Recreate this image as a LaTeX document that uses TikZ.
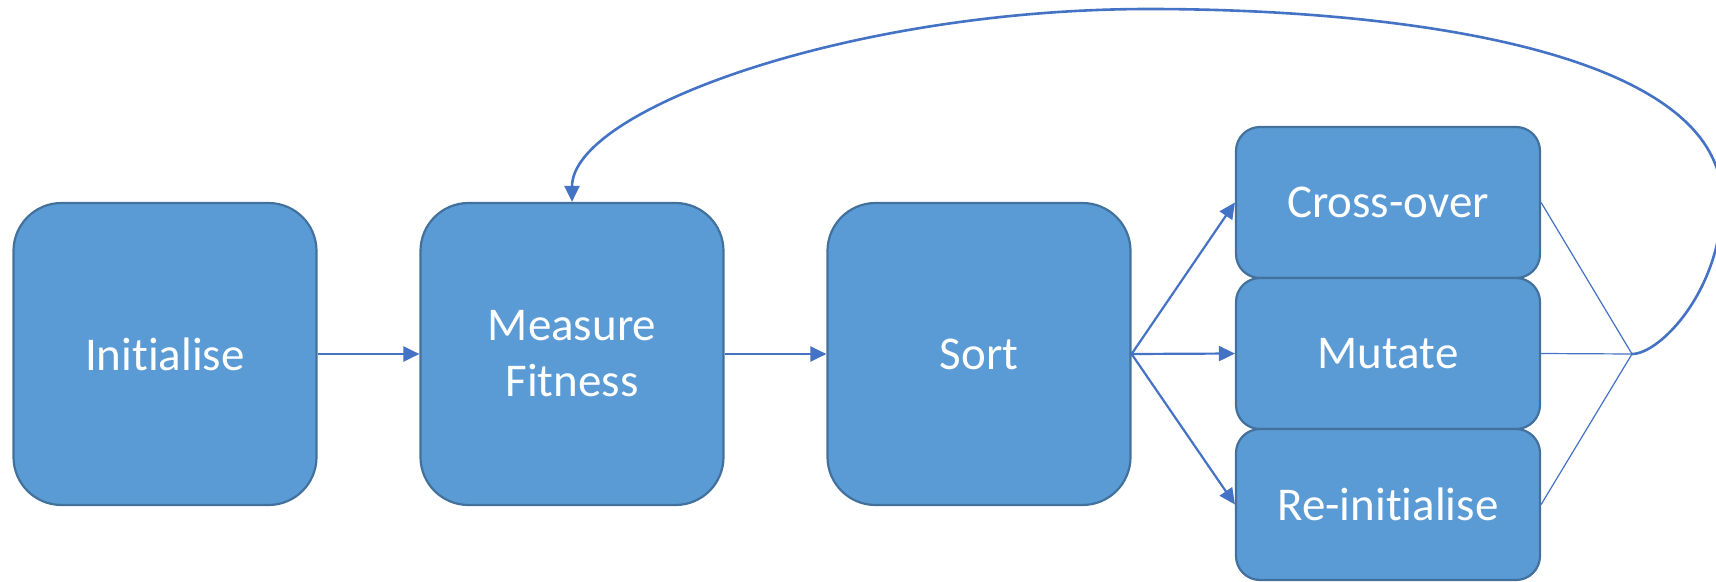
\documentclass[tikz,border=0pt]{standalone}
\usepackage{fontspec}
\setmainfont[RawFeature=-liga]{Carlito}
\usetikzlibrary{arrows.meta}
\definecolor{boxfill}{HTML}{5B9BD5}
\definecolor{boxline}{HTML}{41719C}
\definecolor{conn}{HTML}{4472C4}
\tikzset{
  bigbox/.style={draw=boxline, fill=boxfill, line width=2.2pt, rounded corners=48pt,
    minimum width=303pt, minimum height=302pt, inner sep=0pt, text=white,
    font=\fontsize{47}{56}\selectfont, align=center},
  smallbox/.style={draw=boxline, fill=boxfill, line width=2.2pt, rounded corners=24pt,
    minimum width=304pt, minimum height=151pt, inner sep=0pt, text=white,
    font=\fontsize{47}{56}\selectfont, align=center},
  arr/.style={draw=conn, line width=2.2pt, -{Triangle[length=16pt,width=15pt]}},
  thin/.style={draw=conn, line width=1.2pt},
  loopline/.style={draw=conn, line width=2.6pt, -{Triangle[length=16pt,width=15pt]}}
}
\begin{document}
\begin{tikzpicture}[x=1pt,y=-1pt]
\useasboundingbox (0,0) rectangle (1716,581);
\clip (0,0) rectangle (1716,581);
\node[bigbox] (init) at (165,354) {Initialise};
\node[bigbox] (mf) at (572,354) {Measure\\Fitness};
\node[bigbox] (sort) at (979,354) {Sort};
\node[smallbox] (cross) at (1388,202.5) {Cross-over};
\node[smallbox] (mut) at (1388,353.5) {Mutate};
\node[smallbox] (reinit) at (1388,504.5) {Re-initialise};
\coordinate (j) at (1632,354);
\coordinate (r) at (1722,200);
\coordinate (t) at (1149,9);
\draw[arr] (init.east) -- (mf.west);
\draw[arr] (mf.east) -- (sort.west);
\draw[arr] (sort.east) -- (cross.west);
\draw[arr] (sort.east) -- (mut.west);
\draw[arr] (sort.east) -- (reinit.west);
\draw[thin] (cross.east) -- (j);
\draw[thin] (mut.east) -- (j);
\draw[thin] (reinit.east) -- (j);
\draw[loopline] (j) .. controls (1660,354) and (1722,290) .. (r)
  .. controls (1722,50) and (1400,9) .. (t)
  .. controls (850,9) and (572,110) .. (mf.north);
\end{tikzpicture}
\end{document}
